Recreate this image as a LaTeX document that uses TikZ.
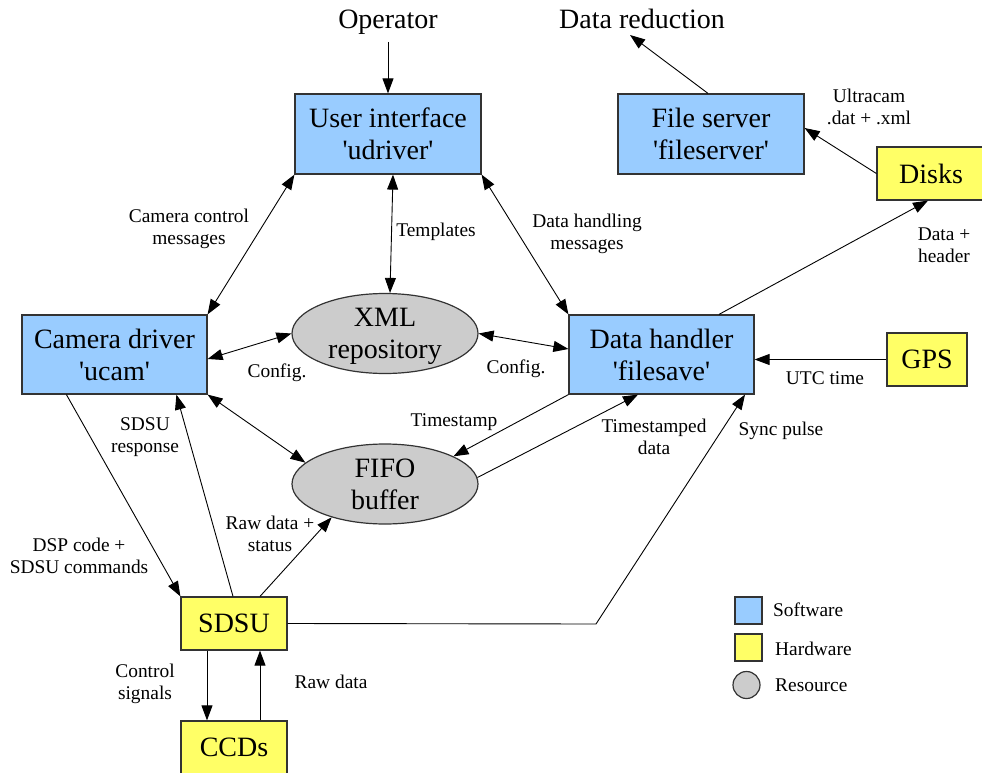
\documentclass[tikz,border=0pt]{standalone}
\usepackage{fontspec}
\setmainfont{Liberation Serif}[Ligatures=TeXOff]
\usetikzlibrary{arrows.meta,calc,shapes.geometric}
\definecolor{swblue}{HTML}{99CCFF}
\definecolor{hwyellow}{HTML}{FFFF66}
\definecolor{resgray}{HTML}{CCCCCC}
\definecolor{edgegray}{HTML}{333333}
\begin{document}
\begin{tikzpicture}[x=1pt,y=-1pt,
  box/.style={rectangle,draw=edgegray,line width=1.2pt,inner sep=0pt,align=center,font=\fontsize{28}{32}\selectfont},
  swbox/.style={box,fill=swblue,minimum width=186pt,minimum height=80pt},
  hwbox/.style={box,fill=hwyellow,minimum height=53pt},
  resnode/.style={ellipse,draw=edgegray,line width=1.2pt,fill=resgray,inner sep=0pt,minimum width=186pt,minimum height=80pt,align=center,font=\fontsize{28}{32}\selectfont},
  lbl/.style={align=center,inner sep=0pt,font=\fontsize{19.4}{21.5}\selectfont},
  big/.style={inner sep=0pt,font=\fontsize{28}{32}\selectfont},
  bigtext/.style={big,align=center},
  arr/.style={-{Triangle[length=15pt,width=11pt]},line width=0.9pt},
  darr/.style={{Triangle[length=15pt,width=11pt]}-{Triangle[length=15pt,width=11pt]},line width=0.9pt}
]
\useasboundingbox (0,0) rectangle (982,773);
\clip (0,0) rectangle (982,773);
\fill[white] (0,0) rectangle (982,773);

% nodes
\node[swbox] (ui) at (388,134) {User interface\\'udriver'};
\node[swbox] (fs) at (711,134) {File server\\'fileserver'};
\node[swbox,minimum width=185pt,minimum height=79pt] (cam) at (114.5,354.5) {Camera driver\\'ucam'};
\node[swbox,minimum width=185pt,minimum height=79pt] (dh) at (661.5,354.5) {Data handler\\'filesave'};
\node[resnode,label={[bigtext,yshift=-3pt]center:XML\\repository}] (xml) at (385,333.5) {};
\node[resnode] (fifo) at (385,484) {FIFO\\buffer};
\node[hwbox,minimum width=108pt] (disks) at (931,173.5) {Disks};
\node[hwbox,minimum width=80pt] (gps) at (927,359.5) {GPS};
\node[hwbox,minimum width=106pt] (sdsu) at (234,623.5) {SDSU};
\node[hwbox,minimum width=106pt] (ccds) at (234,747.5) {CCDs};

\node[big,anchor=base] (op) at (388,29) {Operator};
\node[big,anchor=base] (dr) at (642,29) {Data reduction};
\coordinate (optail) at (388,42);
\coordinate (drtip) at (630,35);
\coordinate (syncbend) at (596,624);

% connectors
\draw[arr] (optail) -- (ui.north);
\draw[arr] ([xshift=-3pt]fs.north) -- (drtip);
\draw[darr] ([xshift=5pt]ui.south) -- ([xshift=5pt]xml.north);
\draw[darr] (ui.south west) -- (cam.north east);
\draw[darr] (ui.south east) -- (dh.north west);
\draw[darr] ([yshift=-4.5pt]cam.east) -- (xml.west);
\draw[darr] (xml.east) -- ([yshift=5.5pt]dh.west);
\draw[darr] (cam.south east) -- (fifo.165);
\draw[arr] ([xshift=45pt]cam.south west) -- (sdsu.north west);
\draw[arr] ([xshift=-1pt]sdsu.north) -- ([xshift=155pt]cam.south west);
\draw[arr] ([xshift=26pt]sdsu.north) -- (fifo.212);
\draw[arr] ([xshift=-27pt]sdsu.south) -- ([xshift=-27pt]ccds.north);
\draw[arr] ([xshift=26pt]ccds.north) -- ([xshift=26pt]sdsu.south);
\draw[arr] (sdsu.east) -- (syncbend) -- ([xshift=83.5pt]dh.south);
\draw[arr] (dh.south west) -- (fifo.22);
\draw[arr] (fifo.4) -- ([xshift=-23.5pt]dh.south);
\draw[arr] ([xshift=57.5pt]dh.north) -- ([xshift=-3pt]disks.south);
\draw[arr] (disks.west) -- ([yshift=6pt]fs.east);
\draw[arr] (gps.west) -- (gps.west -| dh.east);

% labels
\node[lbl] (l1) at (189,229) {Camera control\\messages};
\node[lbl] (l2) at (436,232) {Templates};
\node[lbl] (l3) at (587,234) {Data handling\\messages};
\node[lbl] (l4) at (277,373) {Config.};
\node[lbl] (l5) at (516,369) {Config.};
\node[lbl] (l6) at (825,378) {UTC time};
\node[lbl] (l7) at (869,107) {Ultracam\\.dat + .xml};
\node[lbl] (l8) at (944,245) {Data +\\header};
\node[lbl] (l9) at (454,422) {Timestamp};
\node[lbl] (l10) at (654,437) {Timestamped\\data};
\node[lbl] (l11) at (781,431) {Sync pulse};
\node[lbl] (l12) at (145,437) {SDSU\\response};
\node[lbl] (l13) at (79,556) {DSP code +\\SDSU commands};
\node[lbl] (l14) at (270,534) {Raw data +\\status};
\node[lbl] (l15) at (145,684) {Control\\signals};
\node[lbl] (l16) at (331,682) {Raw data};

% legend
\node[rectangle,draw=edgegray,line width=1.2pt,fill=swblue,minimum size=27pt,inner sep=0pt] (lsw) at (748.5,610.5) {};
\node[rectangle,draw=edgegray,line width=1.2pt,fill=hwyellow,minimum size=27pt,inner sep=0pt] (lhw) at (748.5,647.5) {};
\node[circle,draw=edgegray,line width=1.2pt,fill=resgray,minimum size=27pt,inner sep=0pt] (lres) at (746.5,685) {};
\node[lbl,anchor=west] (tsw) at (773,610) {Software};
\node[lbl,anchor=west] (thw) at (775,649) {Hardware};
\node[lbl,anchor=west] (tres) at (775,685) {Resource};
\end{tikzpicture}
\end{document}
